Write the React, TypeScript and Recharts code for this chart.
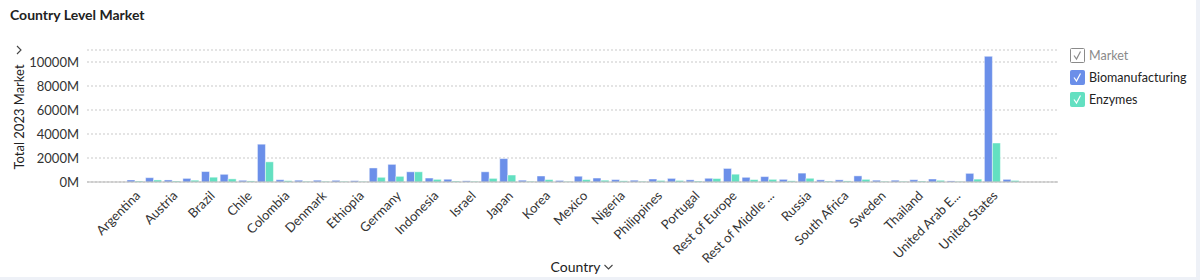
import { Bar, BarChart, CartesianGrid, Label, Legend, XAxis, YAxis } from 'recharts'

// one entry per country, alphabetical; only every other name is printed on the axis
const countries = [
  'Algeria', 'Angola', 'Argentina', 'Australia', 'Austria', 'Belgium', 'Brazil', 'Canada', 'Chile', 'China',
  'Colombia', 'Czech Republic', 'Denmark', 'Egypt', 'Ethiopia', 'France', 'Germany', 'India', 'Indonesia', 'Ireland',
  'Israel', 'Italy', 'Japan', 'Kenya', 'Korea', 'Malaysia', 'Mexico', 'Netherlands', 'Nigeria', 'Norway',
  'Philippines', 'Poland', 'Portugal', 'Rest of Asia Pacific', 'Rest of Europe', 'Rest of Latin America',
  'Rest of Middle East', 'Rest of World', 'Russia', 'Saudi Arabia',
  'South Africa', 'Spain', 'Sweden', 'Switzerland', 'Thailand', 'Turkey', 'United Arab Emirates', 'United Kingdom',
  'United States', 'Vietnam',
]

// millions
const biomanufacturing = [
  0, 0, 170, 360, 170, 300, 870, 640, 140, 3150,
  190, 150, 150, 140, 110, 1170, 1470, 850, 330, 230,
  100, 850, 1950, 150, 500, 130, 480, 330, 200, 150,
  250, 300, 180, 310, 1130, 390, 450, 220, 740, 180,
  180, 510, 150, 150, 190, 250, 90, 720, 10470, 220,
]

const enzymes = [
  0, 0, 80, 170, 80, 150, 400, 260, 90, 1680,
  110, 60, 60, 60, 50, 390, 470, 850, 220, 80,
  60, 300, 580, 60, 200, 50, 200, 150, 100, 60,
  130, 130, 80, 290, 650, 200, 220, 100, 310, 80,
  90, 220, 60, 60, 80, 140, 50, 240, 3250, 130,
]

const yTicks = [0, 2000, 4000, 6000, 8000, 10000]

const legendItems = [
  { name: 'Market', color: '#ffffff', active: false },
  { name: 'Biomanufacturing', color: '#6b8fe9', active: true },
  { name: 'Enzymes', color: '#63e0c1', active: true },
]

const data = countries.map((country, i) => ({
  country,
  biomanufacturing: biomanufacturing[i],
  enzymes: enzymes[i],
}))

const FONT = 'Lato, "Noto Sans", sans-serif'

let ctx: CanvasRenderingContext2D | null = null

// cut long names to roughly the same pixel width, like the source tool does
function shortLabel(label: string) {
  if (!ctx) ctx = document.createElement('canvas').getContext('2d')
  if (!ctx) return label.length > 15 ? label.slice(0, 14) + '...' : label
  ctx.font = `13px ${FONT}`
  const max = 96
  if (ctx.measureText(label).width <= max) return label
  let cut = label
  while (cut.length > 1 && ctx.measureText(cut).width > max - 9) cut = cut.slice(0, -1)
  return cut + '...'
}

function Chevron({ x, y, dir }: { x: number; y: number; dir: 'down' | 'right' }) {
  const pts = dir === 'down' ? `${x - 4},${y - 2} ${x},${y + 2} ${x + 4},${y - 2}` : `${x - 2},${y - 4} ${x + 2},${y} ${x - 2},${y + 4}`
  return <polyline points={pts} fill="none" stroke="#444" strokeWidth={1.1} />
}

function YTitle(props: any) {
  const { x, y, height } = props.viewBox
  const cx = x + 19
  const cy = y + height / 2 + 1
  return (
    <g>
      <text
        x={cx}
        y={cy}
        transform={`rotate(-90 ${cx} ${cy})`}
        textAnchor="middle"
        dominantBaseline="central"
        fontSize={13}
        fontFamily={FONT}
        fill="#222"
      >
        Total 2023 Market
      </text>
      <Chevron x={cx} y={y} dir="right" />
    </g>
  )
}

function XTitle(props: any) {
  const { x, y, width } = props.viewBox
  const cx = x + width / 2
  return (
    <g>
      <text x={cx + 28} y={y + 90} textAnchor="end" fontSize={14} fontFamily={FONT} fill="#222">
        Country
      </text>
      <Chevron x={cx + 36} y={y + 85} dir="down" />
    </g>
  )
}

function LegendBox() {
  return (
    <div style={{ fontFamily: FONT, fontSize: 12.5 }}>
      {legendItems.map((item) => (
        <div key={item.name} style={{ display: 'flex', alignItems: 'center', height: 22 }}>
          <svg width={15} height={15} style={{ marginRight: 4 }}>
            <rect
              x={0.5}
              y={0.5}
              width={14}
              height={14}
              rx={1}
              fill={item.color}
              stroke={item.active ? item.color : '#8a8a8a'}
            />
            <polyline
              points="4,7.5 6.5,11 10.5,3.5"
              fill="none"
              stroke={item.active ? '#ffffff' : '#8a8a8a'}
              strokeWidth={1.2}
            />
          </svg>
          <span style={{ color: item.active ? '#222' : '#8a8a8a' }}>{item.name}</span>
        </div>
      ))}
    </div>
  )
}

export default function App() {
  return (
    <div
      style={{
        position: 'absolute',
        left: 0,
        top: 0,
        width: 1200,
        height: 280,
        boxSizing: 'border-box',
        background: '#fff',
        borderRight: '4px solid #eef1f7',
        borderBottom: '3px solid #eef1f7',
        fontFamily: FONT,
      }}
    >
      <div style={{ position: 'absolute', left: 10, top: 6, fontSize: 14, fontWeight: 700, color: '#222' }}>
        Country Level Market
      </div>
      <BarChart
        width={1196}
        height={277}
        data={data}
        margin={{ top: 50, right: 138, left: 0, bottom: 0 }}
        barCategoryGap="9%"
        barGap={0}
      >
        <CartesianGrid stroke="#c9c9c9" strokeDasharray="2 2" vertical={false} />
        <XAxis
          dataKey="country"
          interval={1}
          height={95}
          padding={{ left: 1, right: 38 }}
          tickLine={false}
          axisLine={{ stroke: '#b5b5b5' }}
          angle={-45}
          textAnchor="end"
          tick={{ fill: '#333', fontSize: 13, fontFamily: FONT }}
          tickFormatter={(value: string, i: number) => (i === 0 ? '' : shortLabel(value))}
        >
          <Label content={XTitle} />
        </XAxis>
        <YAxis
          width={87}
          domain={[0, 11000]}
          ticks={yTicks}
          tickLine={false}
          axisLine={false}
          tick={{ fill: '#333', fontSize: 13, fontFamily: FONT }}
          tickFormatter={(v: number) => `${v}M`}
        >
          <Label content={YTitle} />
        </YAxis>
        <Legend
          layout="vertical"
          align="center"
          verticalAlign="middle"
          wrapperStyle={{ left: 1070, top: 44, width: 'auto', height: 'auto' }}
          content={() => <LegendBox />}
        />
        <Bar
          dataKey="biomanufacturing"
          name="Biomanufacturing"
          fill="#6b8fe9"
          stroke="#ffffff"
          strokeOpacity={0.45}
          isAnimationActive={false}
        />
        <Bar
          dataKey="enzymes"
          name="Enzymes"
          fill="#63e0c1"
          stroke="#ffffff"
          strokeOpacity={0.45}
          isAnimationActive={false}
        />
      </BarChart>
    </div>
  )
}
